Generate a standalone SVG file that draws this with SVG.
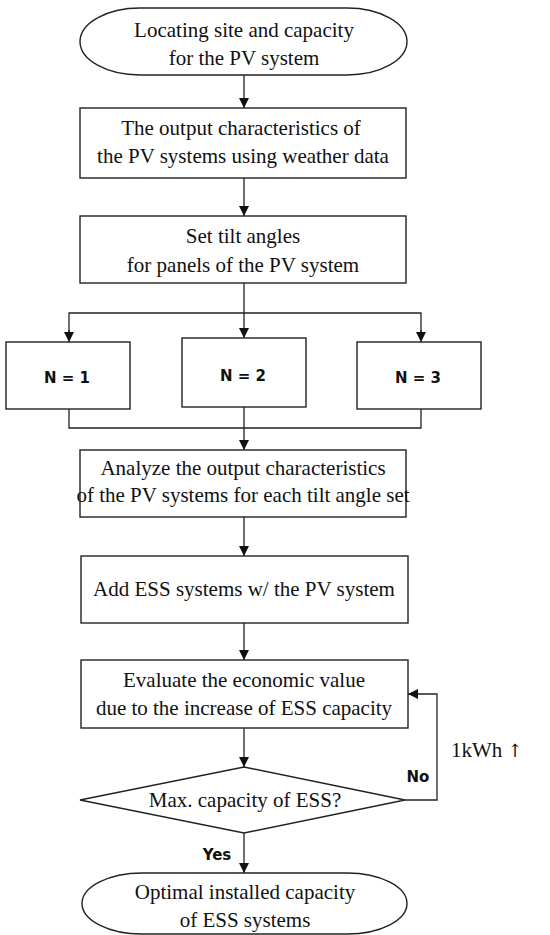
<svg xmlns="http://www.w3.org/2000/svg" width="550" height="935" viewBox="0 0 550 935">
<style>
.s{fill:#fff;stroke:#222;stroke-width:1.4}
.t{font-family:"Liberation Serif","DejaVu Serif",serif;font-size:21px;fill:#111;text-anchor:middle}
.b{font-family:"DejaVu Sans","Noto Sans",sans-serif;font-weight:bold;font-size:15px;fill:#111;text-anchor:middle}
.c{fill:none;stroke:#222;stroke-width:1.3}
</style>
<defs>
<marker id="a" viewBox="0 0 10 10" refX="10" refY="5" markerWidth="10" markerHeight="10" markerUnits="userSpaceOnUse" orient="auto">
<path d="M0,0 L10,5 L0,10 z" fill="#111"/>
</marker>
</defs>
<rect width="550" height="935" fill="#fff"/>
<g id="connectors">
<line class="c" x1="244" y1="75" x2="244" y2="108" marker-end="url(#a)"/>
<line class="c" x1="244" y1="178" x2="244" y2="216" marker-end="url(#a)"/>
<line class="c" x1="244" y1="283" x2="244" y2="338" marker-end="url(#a)"/>
<polyline class="c" points="69,332 69,313 421,313 421,332"/>
<line class="c" x1="69" y1="330" x2="69" y2="342" marker-end="url(#a)"/>
<line class="c" x1="421" y1="330" x2="421" y2="342" marker-end="url(#a)"/>
<polyline class="c" points="69,409 69,428 421,428 421,409"/>
<line class="c" x1="244" y1="407" x2="244" y2="450" marker-end="url(#a)"/>
<line class="c" x1="244" y1="517" x2="244" y2="556" marker-end="url(#a)"/>
<line class="c" x1="244" y1="623" x2="244" y2="660" marker-end="url(#a)"/>
<line class="c" x1="244" y1="728" x2="244" y2="767" marker-end="url(#a)"/>
<line class="c" x1="244" y1="833" x2="244" y2="873" marker-end="url(#a)"/>
<polyline class="c" points="405,800 437,800 437,694 408,694" marker-end="url(#a)"/>
<text class="b" x="418" y="782">No</text>
<text class="b" x="217" y="860">Yes</text>
<text class="t" x="451" y="757" style="text-anchor:start">1kWh <tspan style="font-family:'DejaVu Serif','DejaVu Sans',serif" font-size="18">↑</tspan></text>
</g>
<g id="start">
<rect class="s" x="80" y="8" width="327" height="67" rx="60" ry="33.5"/>
<text class="t" x="244" y="37">Locating site and capacity</text>
<text class="t" x="244" y="65">for the PV system</text>
</g>
<g id="output">
<rect class="s" x="80" y="108" width="326" height="70"/>
<text class="t" x="241" y="135">The output characteristics of</text>
<text class="t" x="243" y="163">the PV systems using weather data</text>
</g>
<g id="tilt">
<rect class="s" x="80" y="216" width="326" height="67"/>
<text class="t" x="243" y="243">Set tilt angles</text>
<text class="t" x="243" y="272">for panels of the PV system</text>
</g>
<g id="n1">
<rect class="s" x="6" y="342" width="124" height="67"/>
<text class="b" x="67" y="383">N = 1</text>
</g>
<g id="n2">
<rect class="s" x="182" y="338" width="124" height="69"/>
<text class="b" x="243" y="381">N = 2</text>
</g>
<g id="n3">
<rect class="s" x="357" y="342" width="124" height="67"/>
<text class="b" x="418" y="383">N = 3</text>
</g>
<g id="analyze">
<rect class="s" x="80" y="450" width="326" height="67"/>
<text class="t" x="243" y="475">Analyze the output characteristics</text>
<text class="t" x="243" y="502">of the PV systems for each tilt angle set</text>
</g>
<g id="add">
<rect class="s" x="81" y="556" width="327" height="67"/>
<text class="t" x="244" y="596">Add ESS systems w/ the PV system</text>
</g>
<g id="evaluate">
<rect class="s" x="81" y="660" width="327" height="68"/>
<text class="t" x="244" y="687">Evaluate the economic value</text>
<text class="t" x="244" y="715">due to the increase of ESS capacity</text>
</g>
<g id="decision">
<polygon class="s" points="244,767 405,800 244,833 80,800"/>
<text class="t" x="245" y="807">Max. capacity of ESS?</text>
</g>
<g id="end">
<rect class="s" x="82" y="873" width="325" height="61" rx="60" ry="30.5"/>
<text class="t" x="245" y="899">Optimal installed capacity</text>
<text class="t" x="245" y="927">of ESS systems</text>
</g>
</svg>
